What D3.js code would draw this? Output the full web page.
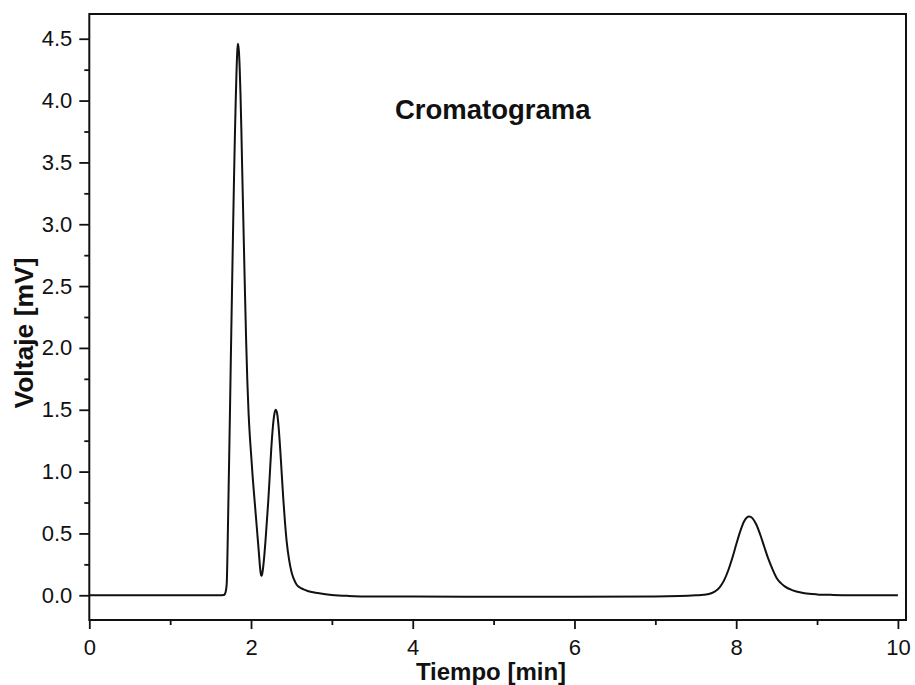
<!DOCTYPE html>
<html>
<head>
<meta charset="utf-8">
<script src="https://cdn.jsdelivr.net/npm/d3@7"></script>
<style>
  html, body { margin: 0; padding: 0; background: #fff; }
  svg { display: block; font-family: "Liberation Sans", Arial, sans-serif; }
</style>
</head>
<body>
<svg id="chart" width="915" height="685"></svg>
<script>
// Detector signal: retention time (min) and voltage (mV)
const time = [
  0, 0.5, 1.0, 1.5, 1.62, 1.66, 1.67, 1.68, 1.69, 1.70,
  1.71, 1.72, 1.73, 1.74, 1.75, 1.76, 1.77, 1.78, 1.79, 1.80,
  1.81, 1.82, 1.83, 1.838, 1.85, 1.86, 1.87, 1.88, 1.89, 1.905,
  1.925, 1.94, 1.955, 1.97, 1.985, 2.00, 2.02, 2.05, 2.08, 2.10,
  2.11, 2.12, 2.127, 2.135, 2.145, 2.16, 2.18, 2.196, 2.214, 2.23,
  2.25, 2.27, 2.29, 2.305, 2.32, 2.34, 2.36, 2.38, 2.40, 2.42,
  2.44, 2.47, 2.50, 2.53, 2.565, 2.60, 2.65, 2.70, 2.80, 2.90,
  3.00, 3.20, 3.50, 4.00, 5.00, 6.00, 7.00, 7.30, 7.50, 7.60,
  7.70, 7.75, 7.80, 7.85, 7.90, 7.95, 8.00, 8.05, 8.10, 8.16,
  8.20, 8.25, 8.30, 8.35, 8.40, 8.45, 8.50, 8.55, 8.60, 8.70,
  8.80, 8.90, 9.00, 9.20, 9.50, 10.0
];
const voltage = [
  0, 0, 0, 0, 0, 0.002, 0.005, 0.015, 0.04, 0.10,
  0.38, 0.75, 1.12, 1.50, 1.90, 2.28, 2.66, 3.03, 3.38, 3.70,
  3.98, 4.22, 4.40, 4.46, 4.40, 4.26, 4.05, 3.78, 3.47, 3.03,
  2.45, 2.05, 1.72, 1.47, 1.29, 1.15, 0.96, 0.72, 0.48, 0.32,
  0.235, 0.178, 0.157, 0.165, 0.20, 0.29, 0.45, 0.60, 0.77, 0.95,
  1.18, 1.36, 1.47, 1.50, 1.48, 1.37, 1.19, 0.98, 0.77, 0.59,
  0.44, 0.29, 0.19, 0.13, 0.085, 0.065, 0.048, 0.035, 0.02, 0.01,
  0.003, -0.005, -0.01, -0.01, -0.012, -0.012, -0.01, -0.006, 0.0, 0.004,
  0.018, 0.036, 0.068, 0.12, 0.198, 0.297, 0.41, 0.517, 0.60, 0.637,
  0.624, 0.57, 0.485, 0.386, 0.29, 0.21, 0.14, 0.10, 0.072, 0.04,
  0.022, 0.012, 0.007, 0.003, 0.001, 0.0
];

const xMajor = [0, 2, 4, 6, 8, 10];
const xMinor = [1, 3, 5, 7, 9];
const yMajor = [0.0, 0.5, 1.0, 1.5, 2.0, 2.5, 3.0, 3.5, 4.0, 4.5];
const yMinor = [0.25, 0.75, 1.25, 1.75, 2.25, 2.75, 3.25, 3.75, 4.25];

const titleText = "Cromatograma";
const xTitle = "Tiempo [min]";
const yTitle = "Voltaje [mV]";

const svg = d3.select("#chart");
const plotLeft = 89.3, plotRight = 906, plotTop = 14, plotBottom = 620;

const x = d3.scaleLinear().domain([0, 10.1]).range([plotLeft, plotRight]);
const y = d3.scaleLinear().domain([-0.2, 4.7]).range([plotBottom, plotTop]);

const tickFont = 22;

// Bottom axis: major and minor ticks
const gx = svg.append("g").attr("transform", `translate(0,${plotBottom})`);
gx.call(d3.axisBottom(x).tickValues(xMajor).tickSize(9).tickPadding(10).tickFormat(d3.format("d")));
gx.append("g").call(d3.axisBottom(x).tickValues(xMinor).tickSize(5).tickFormat(""));

// Left axis: major and minor ticks
const gy = svg.append("g").attr("transform", `translate(${plotLeft},0)`);
gy.call(d3.axisLeft(y).tickValues(yMajor).tickSize(10).tickPadding(7).tickFormat(d3.format(".1f")));
gy.append("g").call(d3.axisLeft(y).tickValues(yMinor).tickSize(5).tickFormat(""));

svg.selectAll(".domain").remove();
svg.selectAll(".tick line").attr("stroke", "#111").attr("stroke-width", 1.8);
svg.selectAll(".tick text")
  .attr("fill", "#111")
  .style("font-size", tickFont + "px")
  .style("font-family", "'Liberation Sans', Arial, sans-serif");

// Plot frame
svg.append("rect")
  .attr("x", plotLeft).attr("y", plotTop)
  .attr("width", plotRight - plotLeft).attr("height", plotBottom - plotTop)
  .attr("fill", "none").attr("stroke", "#111").attr("stroke-width", 2);

// Signal trace
const pts = time.map((t, i) => [t, voltage[i]]);
const line = d3.line()
  .x(d => x(d[0]))
  .y(d => y(d[1]))
  .curve(d3.curveMonotoneX);

svg.append("path")
  .datum(pts)
  .attr("d", line)
  .attr("fill", "none")
  .attr("stroke", "#111")
  .attr("stroke-width", 2)
  .attr("stroke-linejoin", "round");

// Titles
svg.append("text")
  .attr("x", 395).attr("y", 119)
  .attr("font-size", 27.5).attr("font-weight", "bold")
  .attr("fill", "#111")
  .text(titleText);

svg.append("text")
  .attr("x", 491).attr("y", 680)
  .attr("text-anchor", "middle")
  .attr("font-size", 24).attr("font-weight", "bold")
  .attr("fill", "#111")
  .text(xTitle);

svg.append("text")
  .attr("transform", "translate(33,333) rotate(-90)")
  .attr("text-anchor", "middle")
  .attr("font-size", 26.5).attr("font-weight", "bold")
  .attr("fill", "#111")
  .text(yTitle);
</script>
</body>
</html>
